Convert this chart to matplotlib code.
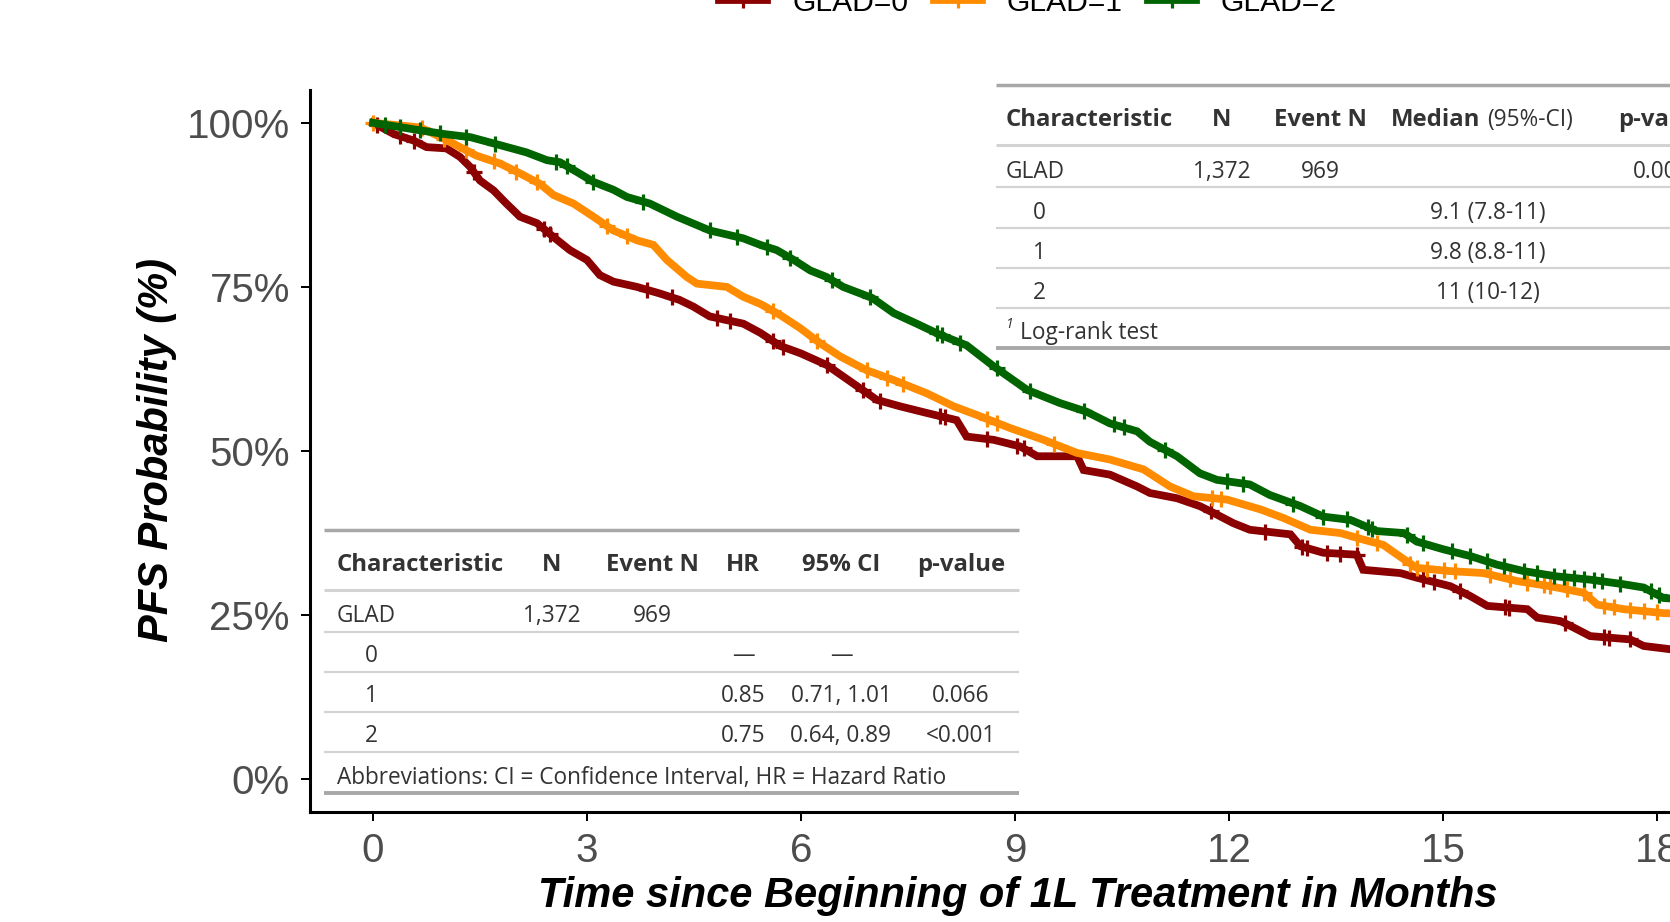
import numpy as np
import matplotlib.pyplot as plt
from matplotlib.lines import Line2D

plt.rcParams['font.family'] = ['Liberation Sans', 'DejaVu Sans']

# KM curves (months, PFS probability)
t_glad0 = [0, 0.29, 0.57, 0.75, 1.03, 1.22, 1.36, 1.5, 1.69, 1.87, 2.06, 2.30, 2.53, 2.76, 3.0,
           3.18, 3.37, 3.70, 4.02, 4.30, 4.49, 4.72, 5.19, 5.43, 5.71, 5.99, 6.36, 6.73, 7.06,
           7.39, 7.76, 8.18, 8.32, 8.70, 9.07, 9.31, 9.87, 9.96, 10.33, 10.71, 10.89, 11.27,
           11.59, 11.83, 12.06, 12.29, 12.86, 13.0, 13.32, 13.79, 13.88, 14.40, 14.63, 15.10,
           15.38, 15.62, 16.18, 16.32, 16.64, 16.83, 17.06, 17.62, 17.81, 18.18, 19.0]
s_glad0 = [1.0, 0.983, 0.973, 0.963, 0.961, 0.948, 0.933, 0.912, 0.897, 0.877, 0.857, 0.847,
           0.826, 0.806, 0.791, 0.768, 0.758, 0.750, 0.740, 0.730, 0.720, 0.705, 0.694, 0.680,
           0.660, 0.649, 0.631, 0.603, 0.578, 0.568, 0.558, 0.547, 0.522, 0.517, 0.507, 0.492,
           0.492, 0.471, 0.464, 0.446, 0.436, 0.428, 0.416, 0.403, 0.390, 0.380, 0.373, 0.355,
           0.345, 0.342, 0.319, 0.314, 0.307, 0.294, 0.279, 0.264, 0.259, 0.246, 0.241, 0.231,
           0.218, 0.213, 0.203, 0.198, 0.190]
cens_glad0 = [0.05, 0.38, 0.57, 1.41, 2.39, 2.48, 3.84, 4.19, 4.82, 5.0, 5.61, 5.75, 6.36, 6.87,
              7.11, 7.95, 8.02, 8.60, 9.03, 9.12, 11.74, 12.51, 13.02, 13.09, 13.37, 13.56,
              13.79, 14.72, 14.87, 15.24, 15.87, 15.92, 16.71, 17.25, 17.32, 17.62]

t_glad1 = [0, 0.66, 0.99, 1.22, 1.45, 1.78, 2.06, 2.34, 2.53, 2.81, 3.09, 3.37, 3.70, 3.93, 4.12,
           4.40, 4.54, 4.96, 5.19, 5.43, 5.71, 5.99, 6.27, 6.55, 6.92, 7.30, 7.76, 8.14, 8.46,
           8.93, 9.40, 9.87, 10.33, 10.8, 11.17, 11.5, 11.97, 12.44, 12.76, 13.14, 13.56, 13.88,
           14.16, 14.45, 14.63, 15.10, 15.57, 16.03, 16.5, 16.97, 17.16, 17.53, 18.09, 19.0]
s_glad1 = [1.0, 0.993, 0.976, 0.963, 0.950, 0.938, 0.923, 0.907, 0.890, 0.877, 0.857, 0.836,
           0.821, 0.814, 0.791, 0.765, 0.755, 0.750, 0.735, 0.724, 0.707, 0.687, 0.664, 0.644,
           0.623, 0.608, 0.588, 0.568, 0.555, 0.535, 0.517, 0.497, 0.487, 0.472, 0.446, 0.431,
           0.426, 0.411, 0.398, 0.380, 0.375, 0.365, 0.357, 0.335, 0.322, 0.317, 0.314, 0.302,
           0.294, 0.284, 0.266, 0.259, 0.253, 0.250]
cens_glad1 = [0.0, 0.68, 0.99, 1.31, 1.69, 2.01, 2.30, 3.28, 3.56, 5.61, 6.22, 6.92, 7.2, 7.43,
              8.60, 8.74, 9.54, 11.76, 11.88, 13.79, 14.07, 14.54, 14.63, 14.77, 15.01, 15.17,
              15.66, 15.94, 16.17, 16.41, 16.50, 16.73, 16.97, 17.25, 17.39, 17.62, 17.81, 18.0]

t_glad2 = [0, 0.52, 0.99, 1.37, 1.78, 2.15, 2.44, 2.62, 2.86, 3.09, 3.37, 3.56, 3.88, 4.26, 4.72,
           5.19, 5.43, 5.66, 5.9, 6.13, 6.36, 6.59, 7.0, 7.3, 7.62, 7.95, 8.32, 8.70, 9.17, 9.63,
           10.0, 10.33, 10.71, 10.89, 11.27, 11.59, 11.83, 12.29, 12.57, 13.0, 13.32, 13.70,
           14.07, 14.45, 14.63, 15.01, 15.38, 15.75, 16.13, 16.59, 17.06, 17.53, 17.81, 18.09, 19.0]
s_glad2 = [1.0, 0.991, 0.983, 0.978, 0.966, 0.955, 0.943, 0.940, 0.925, 0.910, 0.898, 0.887,
           0.877, 0.857, 0.836, 0.824, 0.814, 0.806, 0.791, 0.775, 0.765, 0.750, 0.733, 0.710,
           0.694, 0.677, 0.661, 0.629, 0.593, 0.573, 0.560, 0.542, 0.530, 0.514, 0.492, 0.466,
           0.456, 0.449, 0.433, 0.416, 0.400, 0.395, 0.378, 0.375, 0.362, 0.350, 0.340, 0.327,
           0.317, 0.309, 0.304, 0.297, 0.292, 0.276, 0.270]
cens_glad2 = [0.17, 0.38, 0.66, 0.94, 1.31, 1.71, 2.57, 2.72, 3.09, 3.79, 4.72, 5.10, 5.52, 5.85,
              6.43, 6.97, 7.90, 7.97, 8.23, 8.74, 9.21, 9.96, 10.38, 10.52, 11.10, 11.97, 12.20,
              12.90, 13.32, 13.65, 13.95, 14.0, 14.49, 14.72, 15.12, 15.38, 15.61, 15.85, 16.13,
              16.31, 16.55, 16.69, 16.83, 16.97, 17.11, 17.23, 17.48, 17.91, 18.02]

group_labels = ["GLAD=0", "GLAD=1", "GLAD=2"]
group_colors = ["#8B0000", "#FF8C00", "#006400"]

x_ticks = [0, 3, 6, 9, 12, 15, 18]
y_ticks = [0, 0.25, 0.5, 0.75, 1.0]
y_ticklabels = ["0%", "25%", "50%", "75%", "100%"]

# Cox table (bottom-left)
hr_header = ["Characteristic", "N", "Event N", "HR", "95% CI", "p-value"]
hr_rows = [["GLAD", "1,372", "969", "", "", ""],
           ["0", "", "", "\u2014", "\u2014", ""],
           ["1", "", "", "0.85", "0.71, 1.01", "0.066"],
           ["2", "", "", "0.75", "0.64, 0.89", "<0.001"]]
hr_note = "Abbreviations: CI = Confidence Interval, HR = Hazard Ratio"

# median table (top-right)
med_header = ["Characteristic", "N", "Event N", "Median", "p-value"]
med_rows = [["GLAD", "1,372", "969", "", "0.001"],
            ["0", "", "", "9.1 (7.8-11)", ""],
            ["1", "", "", "9.8 (8.8-11)", ""],
            ["2", "", "", "11 (10-12)", ""]]
med_note = "Log-rank test"

W, H = 1670, 922


def fx(x):
    return x / W


def fy(y):
    return 1 - y / H


fig = plt.figure(figsize=(W / 100, H / 100), dpi=100)
ax = fig.add_axes([fx(310), fy(812), fx(1670) - fx(310), fy(90) - fy(812)])

LW, MS, MEW = 5.6, 11.5, 2.3
curves = [(t_glad0, s_glad0, cens_glad0), (t_glad1, s_glad1, cens_glad1), (t_glad2, s_glad2, cens_glad2)]
for (t, s, cens), col in zip(curves, group_colors):
    ax.plot(t, s, color=col, lw=LW, solid_joinstyle='miter')
    ax.plot(cens, np.interp(cens, t, s), ls='none', marker='+', ms=MS, mew=MEW, color=col)

ax.set_xlim(-0.883, 18.18)
ax.set_ylim(-0.05, 1.05)
ax.set_xticks(x_ticks)
ax.set_yticks(y_ticks)
ax.set_yticklabels(y_ticklabels)
for side in ['top', 'right']:
    ax.spines[side].set_visible(False)
for side in ['left', 'bottom']:
    ax.spines[side].set_linewidth(2.2)
    ax.spines[side].set_color('black')
ax.tick_params(length=6.5, width=1.45, color='black', labelcolor='#4D4D4D', labelsize=29, pad=8)

fig.text(fx(1018), fy(907), "Time since Beginning of 1L Treatment in Months", ha='center',
         va='baseline', fontsize=30, fontweight='bold', fontstyle='italic', color='black')
fig.text(fx(157), fy(450), "PFS Probability (%)", rotation=90, ha='center', va='center',
         fontsize=30, fontweight='bold', fontstyle='italic', color='black')

handles = [Line2D([], [], color=c, lw=LW, marker='+', ms=MS, mew=MEW) for c in group_colors]
fig.legend(handles, group_labels, loc='center', bbox_to_anchor=(fx(1028), fy(3)), ncol=3,
           frameon=False, fontsize=21.6, handlelength=1.6, handletextpad=0.83,
           columnspacing=0.85, borderpad=0, borderaxespad=0)

# ---- tables drawn in figure pixels ----
tfont = ['Open Sans', 'DejaVu Sans']
tcol = '#333333'
tsize = 16.3
bsize = 17.2


def rule(x0, x1, y, color, lw):
    fig.add_artist(Line2D([fx(x0), fx(x1)], [fy(y), fy(y)], transform=fig.transFigure,
                          color=color, lw=lw, solid_capstyle='butt'))


def cell(x, y, s, ha='center', bold=False, size=None, style='normal'):
    if size is None:
        size = bsize if bold else tsize
    fig.text(fx(x), fy(y), s, ha=ha, va='center_baseline', fontsize=size, color=tcol,
             family=tfont, fontweight='bold' if bold else 'normal', fontstyle=style)


# bottom-left table
hr_left, hr_right = 324, 1019
hr_cols = [337, 552, 652, 743, 841, 961]
hr_row_y = [613, 653, 693, 733]
rule(hr_left, hr_right, 530, '#A8A8A8', 2.5)
for j, h in enumerate(hr_header):
    cell(hr_cols[j], 562, h, ha='left' if j == 0 else 'center', bold=True)
rule(hr_left, hr_right, 590, '#D3D3D3', 2.2)
for i, row in enumerate(hr_rows):
    for j, v in enumerate(row):
        if j == 0:
            cell(hr_cols[0] + (0 if i == 0 else 28), hr_row_y[i], v, ha='left')
        elif v:
            cell(hr_cols[j], hr_row_y[i], v)
    rule(hr_left, hr_right, hr_row_y[i] + 19, '#D3D3D3', 1.6)
cell(hr_cols[0], 775, hr_note, ha='left')
rule(hr_left, hr_right, 793, '#A8A8A8', 2.8)

# top-right table
md_left, md_right = 996, 1700
md_cols = [1006, 1222, 1320, 1480, 1662]
md_row_y = [169, 210, 250, 290]
rule(md_left, md_right, 85, '#A8A8A8', 2.5)
cell(md_cols[0], 117, med_header[0], ha='left', bold=True)
cell(md_cols[1], 117, med_header[1], bold=True)
cell(md_cols[2], 117, med_header[2], bold=True)
cell(md_cols[3], 117, med_header[3], ha='right', bold=True)
cell(md_cols[3] + 7, 117, "(95%-CI)", ha='left')
cell(md_cols[4], 117, med_header[4], bold=True)
rule(md_left, md_right, 145, '#D3D3D3', 2.2)
for i, row in enumerate(med_rows):
    for j, v in enumerate(row):
        if j == 0:
            cell(md_cols[0] + (0 if i == 0 else 27), md_row_y[i], v, ha='left')
        elif j == 3 and v:
            cell(1488, md_row_y[i], v)
        elif v:
            cell(md_cols[j], md_row_y[i], v)
    rule(md_left, md_right, md_row_y[i] + 18, '#D3D3D3', 1.6)
cell(1006, 323, "1", size=10, ha='left', style='italic')
cell(1020, 330, med_note, ha='left')
rule(md_left, md_right, 348, '#A8A8A8', 2.8)

fig.savefig("out.png", dpi=100)
